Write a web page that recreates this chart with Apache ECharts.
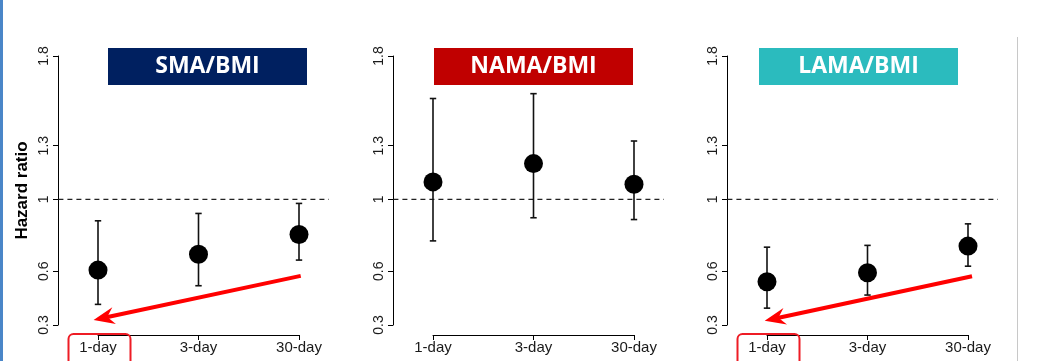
<!DOCTYPE html>
<html><head><meta charset="utf-8">
<script src="https://cdn.jsdelivr.net/npm/echarts@6/dist/echarts.min.js"></script>
<style>html,body{margin:0;padding:0;background:#fff}#c{width:1042px;height:361px}</style>
</head><body><div id="c"></div>
<script>
// ---- data ----
const categories = ['1-day', '3-day', '30-day'];
const yTicks = [0.3, 0.6, 1, 1.3, 1.8];
const panelNames = ['SMA/BMI', 'NAMA/BMI', 'LAMA/BMI'];
const smaHR = [0.606, 0.695, 0.805];
const smaLow = [0.415, 0.519, 0.662];
const smaHigh = [0.881, 0.922, 0.978];
const namaHR = [1.098, 1.200, 1.085];
const namaLow = [0.769, 0.898, 0.888];
const namaHigh = [1.563, 1.590, 1.326];
const lamaHR = [0.541, 0.591, 0.740];
const lamaLow = [0.394, 0.467, 0.628];
const lamaHigh = [0.734, 0.744, 0.864];
const refValue = 1;
const plotXRange = [-0.394, 2.298];          // x extent of the dashed reference line
const arrowSMA = [[2.017, 0.574], [-0.044, 0.328]];
const arrowLAMA = [[2.040, 0.572], [-0.023, 0.324]];
const highlightCat = 0;                      // index of boxed category label

// ---- layout / style ----
const panelColors = ['#002060', '#C00000', '#2BBBBE'];
const gridLeft = [98, 433, 767];
const titleLeft = [108, 434, 759];
const GRID_TOP = 56, GRID_H = 269, GRID_W = 201;
const YMIN = 0.3, YMAX = 1.8;

const panels = [
  {hr: smaHR, lo: smaLow, hi: smaHigh, arrow: arrowSMA},
  {hr: namaHR, lo: namaLow, hi: namaHigh, arrow: null},
  {hr: lamaHR, lo: lamaLow, hi: lamaHigh, arrow: arrowLAMA}
];

const chart = echarts.init(document.getElementById('c'), null, {renderer: 'canvas'});

const grid = [], xAxis = [], yAxis = [], series = [];
panels.forEach((p, i) => {
  grid.push({left: gridLeft[i], top: GRID_TOP, width: GRID_W, height: GRID_H});
  xAxis.push({
    gridIndex: i, type: 'value', min: 0, max: categories.length - 1, interval: 1, offset: 10,
    axisLine: {show: true, onZero: false, lineStyle: {color: '#000', width: 1}},
    axisTick: {show: true, length: 5, lineStyle: {color: '#000', width: 1}},
    axisLabel: {formatter: v => categories[v], fontSize: 15, color: '#1a1a1a', margin: 5,
      fontFamily: 'Liberation Sans'},
    splitLine: {show: false}
  });
  yAxis.push({
    gridIndex: i, type: 'value', min: YMIN, max: YMAX, offset: 40,
    axisLine: {show: true, onZero: false, lineStyle: {color: '#000', width: 1}},
    axisTick: {show: true, length: 5, customValues: yTicks, lineStyle: {color: '#000', width: 1}},
    axisLabel: {customValues: yTicks, formatter: v => String(v), rotate: 90, fontSize: 14,
      color: '#1a1a1a', margin: 7, fontFamily: 'Liberation Sans'},
    splitLine: {show: false},
    name: i === 0 ? 'Hazard ratio' : '',
    nameLocation: 'middle', nameRotate: 90, nameGap: 27,
    nameTextStyle: {fontWeight: 'bold', fontSize: 17, fontFamily: 'Liberation Sans', color: '#000'}
  });
  // dashed reference line
  series.push({
    type: 'custom', xAxisIndex: i, yAxisIndex: i, clip: false, silent: true, z: 1,
    data: [[plotXRange[0], plotXRange[1], refValue]],
    renderItem: (params, api) => {
      const a = api.coord([api.value(0), api.value(2)]);
      const b = api.coord([api.value(1), api.value(2)]);
      return {type: 'line', shape: {x1: a[0], y1: a[1], x2: b[0], y2: b[1]},
        style: {stroke: '#222', lineWidth: 1.3, lineDash: [5, 4]}};
    }
  });
  // error bars
  series.push({
    type: 'custom', xAxisIndex: i, yAxisIndex: i, clip: false, silent: true, z: 2,
    data: p.hr.map((v, k) => [k, p.lo[k], p.hi[k]]),
    renderItem: (params, api) => {
      const lo = api.coord([api.value(0), api.value(1)]);
      const hi = api.coord([api.value(0), api.value(2)]);
      const st = {stroke: '#111', lineWidth: 1.6};
      const cw = 3.2;
      return {type: 'group', children: [
        {type: 'line', shape: {x1: lo[0], y1: lo[1], x2: hi[0], y2: hi[1]}, style: st},
        {type: 'line', shape: {x1: lo[0] - cw, y1: lo[1], x2: lo[0] + cw, y2: lo[1]}, style: st},
        {type: 'line', shape: {x1: hi[0] - cw, y1: hi[1], x2: hi[0] + cw, y2: hi[1]}, style: st}
      ]};
    }
  });
  // points
  series.push({
    type: 'scatter', xAxisIndex: i, yAxisIndex: i, z: 3, silent: true,
    symbol: 'circle', symbolSize: 19, itemStyle: {color: '#000', opacity: 1},
    data: p.hr.map((v, k) => [k, v])
  });
  if (p.arrow) {
    // red arrow annotation
    series.push({
      type: 'custom', xAxisIndex: i, yAxisIndex: i, clip: false, silent: true, z: 4,
      data: [[p.arrow[0][0], p.arrow[0][1], p.arrow[1][0], p.arrow[1][1]]],
      renderItem: (params, api) => {
        const f = api.coord([api.value(0), api.value(1)]);
        const t = api.coord([api.value(2), api.value(3)]);
        const dx = t[0] - f[0], dy = t[1] - f[1];
        const len = Math.hypot(dx, dy);
        const ux = dx / len, uy = dy / len, nx = -uy, ny = ux;
        const L = 21, W = 8.5, N = 7;
        const notch = [t[0] - ux * (L - N), t[1] - uy * (L - N)];
        return {type: 'group', children: [
          {type: 'line', shape: {x1: f[0], y1: f[1], x2: notch[0] + ux * 2, y2: notch[1] + uy * 2},
            style: {stroke: '#FF0000', lineWidth: 4}},
          {type: 'polygon', shape: {points: [
            t,
            [t[0] - ux * L + nx * W, t[1] - uy * L + ny * W],
            notch,
            [t[0] - ux * L - nx * W, t[1] - uy * L - ny * W]
          ]}, style: {fill: '#FF0000'}}
        ]};
      }
    });
    // highlight box around first category label
    series.push({
      type: 'custom', xAxisIndex: i, yAxisIndex: i, clip: false, silent: true, z: 4,
      data: [[highlightCat, YMIN]],
      renderItem: (params, api) => {
        const c = api.coord([api.value(0), api.value(1)]);
        return {type: 'rect', shape: {x: c[0] - 29.5, y: c[1] + 9, width: 62, height: 40, r: 5},
          style: {fill: 'none', stroke: '#EE1C25', lineWidth: 2}};
      }
    });
  }
});

const graphic = [
  {type: 'rect', left: 0, top: 0, shape: {width: 3, height: 361}, style: {fill: '#4A86C8'}, silent: true},
  {type: 'line', shape: {x1: 1017.5, y1: 37, x2: 1017.5, y2: 361}, style: {stroke: '#C8C8C8', lineWidth: 1}, silent: true}
];
panelNames.forEach((name, i) => {
  graphic.push({
    type: 'rect', x: titleLeft[i], y: 48, shape: {x: 0, y: 0, width: 199, height: 37},
    style: {fill: panelColors[i]}, silent: true,
    textContent: {style: {text: name, fill: '#fff', font: 'bold 23px "Open Sans"'}},
    textConfig: {position: 'inside'}
  });
});

chart.setOption({
  animation: false,
  backgroundColor: '#fff',
  grid, xAxis, yAxis, series, graphic
});
</script></body></html>
